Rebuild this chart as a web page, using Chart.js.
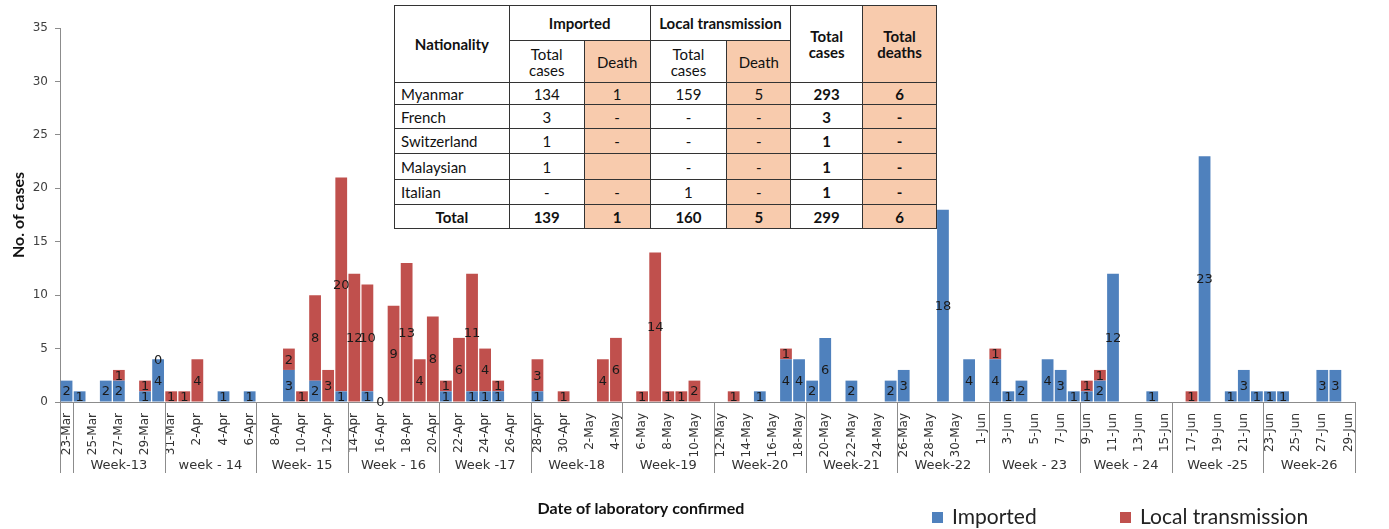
<!DOCTYPE html>
<html>
<head>
<meta charset="utf-8">
<script src="https://cdn.jsdelivr.net/npm/chart.js@4.4.1/dist/chart.umd.min.js"></script>
<style>
  body { margin: 0; background: #fff; }
  #wrap { position: relative; width: 1389px; height: 529px; }
  #cases { position: absolute; left: 0; top: 0; }
  table.summary {
    position: absolute; left: 394px; top: 5px; width: 543px;
    border-collapse: collapse; background: #fff;
    font-family: Lato, "Open Sans", sans-serif; font-size: 15px; color: #111;
  }
  table.summary td { border: 1px solid #333; text-align: center; padding: 0 3px; line-height: 16px; }
  table.summary td.name { text-align: left; padding-left: 6px; }
  table.summary .peach { background: #f8cbad; }
  table.summary .b { font-weight: bold; }
  .legend { position: absolute; top: 503px; font-family: Lato, "Open Sans", sans-serif; font-size: 21px; color: #222; }
  .legend i { display: inline-block; width: 11px; height: 11px; margin-right: 9px; vertical-align: 1px; }
</style>
</head>
<body>
<div id="wrap">
  <canvas id="cases" width="1389" height="529"></canvas>
  <table class="summary" id="summary"></table>
  <div class="legend" style="left:932px"><i style="background:#4f81bd"></i>Imported</div>
  <div class="legend" style="left:1120px"><i style="background:#c0504d"></i>Local transmission</div>
</div>
<script>
const dates = [
  "23-Mar","24-Mar","25-Mar","26-Mar","27-Mar","28-Mar","29-Mar","30-Mar","31-Mar",
  "1-Apr","2-Apr","3-Apr","4-Apr","5-Apr","6-Apr","7-Apr","8-Apr","9-Apr","10-Apr",
  "11-Apr","12-Apr","13-Apr","14-Apr","15-Apr","16-Apr","17-Apr","18-Apr","19-Apr","20-Apr",
  "21-Apr","22-Apr","23-Apr","24-Apr","25-Apr","26-Apr","27-Apr","28-Apr","29-Apr","30-Apr",
  "1-May","2-May","3-May","4-May","5-May","6-May","7-May","8-May","9-May","10-May",
  "11-May","12-May","13-May","14-May","15-May","16-May","17-May","18-May","19-May","20-May",
  "21-May","22-May","23-May","24-May","25-May","26-May","27-May","28-May","29-May","30-May","31-May",
  "1-Jun","2-Jun","3-Jun","4-Jun","5-Jun","6-Jun","7-Jun","8-Jun","9-Jun","10-Jun",
  "11-Jun","12-Jun","13-Jun","14-Jun","15-Jun","16-Jun","17-Jun","18-Jun","19-Jun","20-Jun",
  "21-Jun","22-Jun","23-Jun","24-Jun","25-Jun","26-Jun","27-Jun","28-Jun","29-Jun"
];

// one line per week (week 12 only has 23-Mar)
const imported = [
  2,
  1, null, 2, 2, null, 1, 4,
  null, null, null, null, 1, null, 1,
  null, null, 3, null, 2, null, 1,
  null, 1, null, null, null, null, null,
  1, null, 1, 1, 1, null, null,
  1, null, null, null, null, null, null,
  null, null, null, null, null, null, null,
  null, null, null, 1, null, 4, 4,
  2, 6, null, 2, null, null, 2,
  3, null, null, 18, null, 4, null,
  4, 1, 2, null, 4, 3, 1,
  1, 2, 12, null, null, 1, null,
  null, null, 23, null, 1, 3, 1,
  1, 1, null, null, 3, 3, null
];
const local = [
  null,
  null, null, null, 1, null, 1, 0,
  1, 1, 4, null, null, null, null,
  null, null, 2, 1, 8, 3, 20,
  12, 10, 0, 9, 13, 4, 8,
  1, 6, 11, 4, 1, null, null,
  3, null, 1, null, null, 4, 6,
  null, 1, 14, 1, 1, 2, null,
  null, 1, null, null, null, 1, null,
  null, null, null, null, null, null, null,
  null, null, null, null, null, null, null,
  1, null, null, null, null, null, null,
  1, 1, null, null, null, null, null,
  null, 1, null, null, null, null, null,
  null, null, null, null, null, null, null
];

const weekNames = ["", "Week-13", "week - 14", "Week- 15", "Week - 16", "Week -17", "Week-18", "Week-19",
  "Week-20", "Week-21", "Week-22", "Week - 23", "Week - 24", "Week -25", "Week-26"];
const weekDays = [1, 7, 7, 7, 7, 7, 7, 7, 7, 7, 7, 7, 7, 7, 7];

const tableHead = ["Nationality", "Imported", "Local transmission", "Total cases", "Total deaths"];
const tableRows = [
  ["Myanmar", "134", "1", "159", "5", "293", "6"],
  ["French", "3", "-", "-", "-", "3", "-"],
  ["Switzerland", "1", "-", "-", "-", "1", "-"],
  ["Malaysian", "1", "", "-", "-", "1", "-"],
  ["Italian", "-", "-", "1", "-", "1", "-"]
];
const tableTotal = ["Total", "139", "1", "160", "5", "299", "6"];

// summary table
const tbl = document.getElementById("summary");
let html = '<colgroup><col style="width:115px"><col style="width:75px"><col style="width:66px">' +
  '<col style="width:77px"><col style="width:64px"><col style="width:72px"><col style="width:74px"></colgroup>';
html += '<tr style="height:35px"><td class="b" rowspan="2">' + tableHead[0] + '</td>' +
  '<td class="b" colspan="2">' + tableHead[1] + '</td><td class="b" colspan="2">' + tableHead[2] + '</td>' +
  '<td class="b" rowspan="2">Total<br>cases</td><td class="b peach" rowspan="2">Total<br>deaths</td></tr>';
html += '<tr style="height:42px"><td>Total<br>cases</td><td class="peach">Death</td><td>Total<br>cases</td><td class="peach">Death</td></tr>';
const rowH = [22, 24, 25, 26, 25];
tableRows.forEach((r, k) => {
  html += '<tr style="height:' + rowH[k] + 'px"><td class="name">' + r[0] + '</td><td>' + r[1] +
    '</td><td class="peach">' + r[2] + '</td><td>' + r[3] + '</td><td class="peach">' + r[4] +
    '</td><td class="b">' + r[5] + '</td><td class="b peach">' + r[6] + '</td></tr>';
});
html += '<tr style="height:24px" class="b">' + tableTotal.map((v, k) =>
  '<td class="' + (k == 2 || k == 4 || k == 6 ? 'peach' : '') + '">' + v + '</td>').join('') + '</tr>';
tbl.innerHTML = html;

const barLabels = {
  id: "barLabels",
  afterDatasetsDraw(chart) {
    const ctx = chart.ctx;
    ctx.save();
    ctx.font = "13px 'DejaVu Sans'";
    ctx.fillStyle = "#1a1a1a";
    ctx.textAlign = "center";
    ctx.textBaseline = "middle";
    chart.data.datasets.forEach((ds, d) => {
      chart.getDatasetMeta(d).data.forEach((bar, i) => {
        const v = ds.data[i];
        if (v === null) return;
        ctx.fillText(String(v), bar.x, (bar.y + bar.base) / 2 + 1);
      });
    });
    ctx.restore();
  }
};

const weekAxis = {
  id: "weekAxis",
  afterDraw(chart) {
    const ctx = chart.ctx;
    const x = chart.scales.x;
    const area = chart.chartArea;
    const half = (x.getPixelForValue(1) - x.getPixelForValue(0)) / 2;
    ctx.save();
    ctx.strokeStyle = "#8c8c8c";
    ctx.lineWidth = 1;
    ctx.font = "13px 'DejaVu Sans'";
    ctx.fillStyle = "#333";
    ctx.textAlign = "center";
    ctx.textBaseline = "middle";
    let start = 0;
    let left = area.left;
    const line = (px) => {
      ctx.beginPath();
      ctx.moveTo(Math.round(px) + 0.5, area.bottom);
      ctx.lineTo(Math.round(px) + 0.5, 473);
      ctx.stroke();
    };
    line(left);
    weekDays.forEach((n, w) => {
      const end = start + n - 1;
      const right = x.getPixelForValue(end) + half;
      line(right);
      ctx.fillText(weekNames[w], (left + right) / 2, 466);
      left = right;
      start += n;
    });
    ctx.font = "bold 16px Lato";
    ctx.fillStyle = "#111";
    ctx.fillText("Date of laboratory confirmed", 641, 509);
    ctx.restore();
  }
};

new Chart(document.getElementById("cases"), {
  type: "bar",
  data: {
    labels: dates,
    datasets: [
      { label: "Imported", data: imported, backgroundColor: "#4f81bd" },
      { label: "Local transmission", data: local, backgroundColor: "#c0504d" }
    ]
  },
  options: {
    responsive: false,
    animation: false,
    devicePixelRatio: 1,
    layout: { padding: { top: 28, right: 34, left: 0, bottom: 0 } },
    datasets: { bar: { categoryPercentage: 0.9, barPercentage: 1 } },
    plugins: { legend: { display: false }, tooltip: { enabled: false } },
    scales: {
      x: {
        stacked: true,
        grid: { display: false },
        border: { display: true, color: "#8c8c8c" },
        ticks: {
          autoSkip: false,
          minRotation: 90,
          maxRotation: 90,
          padding: 3,
          color: "#333",
          font: { family: "DejaVu Sans", size: 12 },
          callback: (v, i) => (i % 2 === 0 ? dates[i] : "")
        },
        afterFit: (s) => { s.height = 127; }
      },
      y: {
        stacked: true,
        min: 0,
        max: 35,
        grid: { drawOnChartArea: false, drawTicks: true, tickLength: 5, color: "#8c8c8c" },
        border: { display: true, color: "#8c8c8c" },
        ticks: { stepSize: 5, padding: 7, color: "#404040", font: { family: "DejaVu Sans", size: 12 } },
        title: {
          display: true,
          text: "No. of cases",
          color: "#111",
          font: { family: "Lato", size: 16, weight: "bold" },
          padding: { top: 9, bottom: 0 }
        },
        afterFit: (s) => { s.width = 60; }
      }
    }
  },
  plugins: [barLabels, weekAxis]
});
</script>
</body>
</html>
